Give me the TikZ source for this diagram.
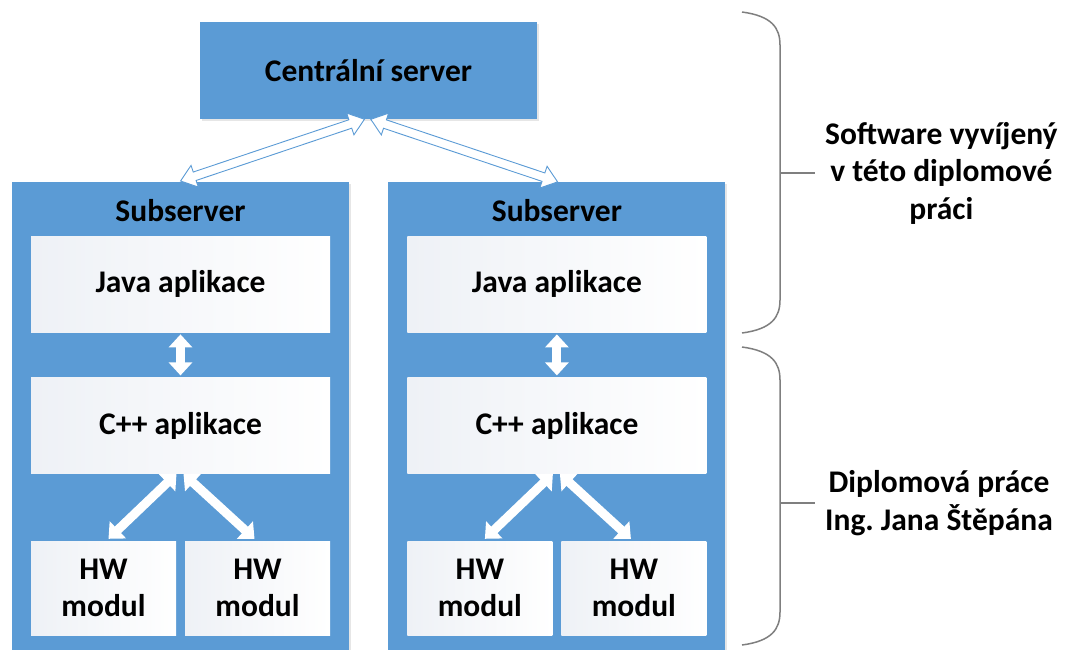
\documentclass[tikz,border=0pt]{standalone}
\usepackage{fontspec}
\setmainfont{Carlito}
\usetikzlibrary{positioning, shapes.arrows, arrows.meta, shadows}
\definecolor{boxblue}{HTML}{5B9BD5}
\definecolor{paleblue}{HTML}{EEF1F6}
\definecolor{bracegray}{HTML}{7F7F7F}

\begin{document}
\begin{tikzpicture}[x = 1pt, y = -1pt,
    every node/.style = { align = center, inner sep = 0pt, font = \fontsize{31.5}{37.5}\selectfont\bfseries },
    bluebox/.style = { fill = boxblue, minimum width = 337pt,
      drop shadow = {shadow xshift=1.5pt, shadow yshift=-1.5pt, opacity=.2} },
    whitebox/.style = { left color = paleblue, right color = white, minimum width = 299pt, minimum height = 96pt },
    hwbox/.style = { whitebox, minimum width = 145pt, minimum height = 94pt },
    fatarrow/.style = { draw = white, line width = 9pt,
      {Triangle[length = 13pt, width = 23pt]}-{Triangle[length = 13pt, width = 23pt]} },
    linkarrow/.style = { double arrow, draw = boxblue, fill = white, line width = .9pt, sloped,
      inner sep = 4pt, double arrow head extend = 7pt, double arrow tip angle = 75 },
    brace/.style = { draw = bracegray, line width = 1.5pt } ]

  \useasboundingbox (0, 0) rectangle (1066, 649);

  % servers
  \node[bluebox, minimum height = 97pt] (cs) at (368.5, 70.5) {Centrální server};
  \node[bluebox, minimum height = 480pt, anchor = north] (sub1) at (180.5, 182) {};
  \node[bluebox, minimum height = 480pt, right = 39pt of sub1] (sub2) {};

  \foreach \s in {1, 2} {
    \node (lab\s) at ([yshift = -29pt]sub\s.north) {Subserver};
    \node[whitebox, below = 54pt of sub\s.north] (java\s) {Java aplikace};
    \node[whitebox, below = 45pt of java\s] (cpp\s) {C++ aplikace};
    \node[hwbox, below = 67pt of cpp\s.south west, anchor = north west] (hwa\s) {HW\\modul};
    \node[hwbox, below = 67pt of cpp\s.south east, anchor = north east] (hwb\s) {HW\\modul};
    \draw[fatarrow] ([yshift = -2pt]java\s.south) -- ([yshift = 2pt]cpp\s.north);
    \draw[fatarrow] ([xshift = -4pt]cpp\s.south) -- ([xshift = 5pt, yshift = 2pt]hwa\s.north);
    \draw[fatarrow] ([xshift = 3pt]cpp\s.south) -- ([xshift = -3pt, yshift = 2pt]hwb\s.north);
  }

  % links to the central server
  \path ([yshift = 1pt]sub1.north) -- node[linkarrow, minimum height = 194pt] (up1) {} ([xshift = -4pt]cs.south);
  \path ([xshift = 2pt]cs.south) -- node[linkarrow, minimum height = 197pt] (up2) {} ([xshift = 1pt]sub2.north);

  % braces
  \draw[brace] (742, 12) .. controls (772, 16) and (780, 28) .. (780, 45) -- (780, 300)
    .. controls (780, 317) and (772, 329) .. (742, 333);
  \draw[brace] (742, 347) .. controls (772, 351) and (780, 363) .. (780, 380) -- (780, 612)
    .. controls (780, 629) and (772, 641) .. (742, 645);
  \coordinate (tip1) at (815, 173);
  \coordinate (tip2) at (815, 503);
  \draw[brace] (780, 173) -- (tip1);
  \draw[brace] (780, 503) -- (tip2);
  \node[right = 10pt of tip1] (ours) {Software vyvíjený\\v této diplomové\\práci};
  \node[right = 10pt of tip2] (prev) {Diplomová práce\\Ing.\ Jana Štěpána};

\end{tikzpicture}
\end{document}
